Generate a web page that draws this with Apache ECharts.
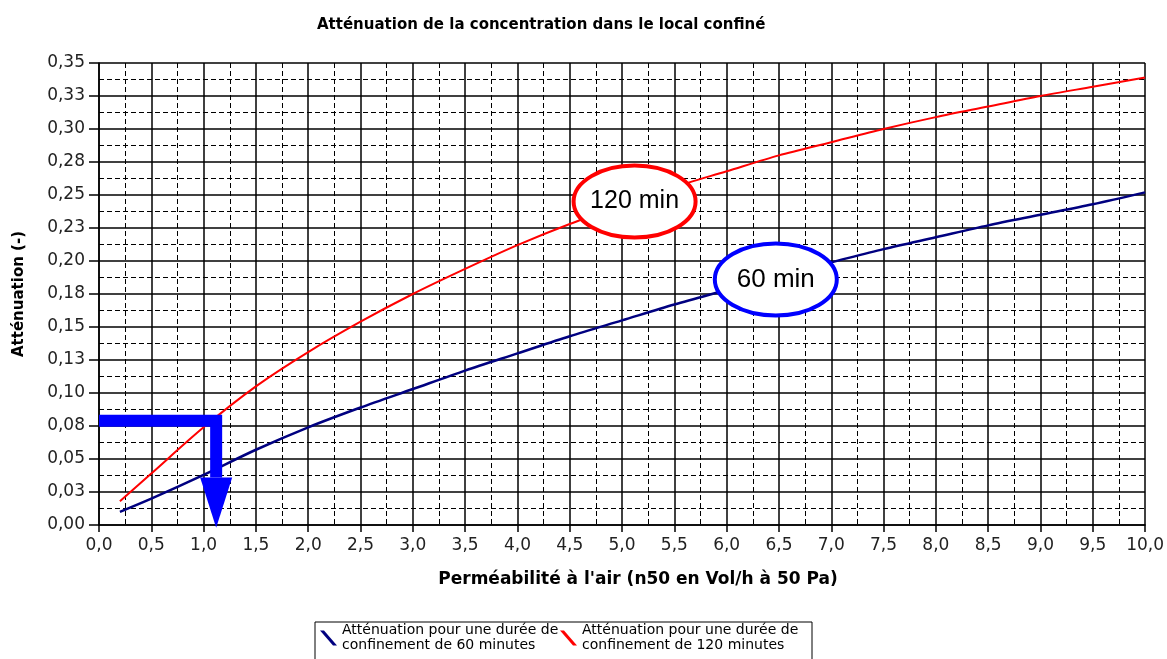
<!DOCTYPE html>
<html>
<head>
<meta charset="utf-8">
<script src="https://cdn.jsdelivr.net/npm/echarts@6/dist/echarts.min.js"></script>
<style>
  html, body { margin: 0; padding: 0; background: #fff; }
  #chart { width: 1167px; height: 659px; }
</style>
</head>
<body>
<div id="chart"></div>
<script>
// perméabilité n50 (Vol/h à 50 Pa)
var xValues = [0.2, 0.5, 1.0, 1.5, 2.0, 2.5, 3.0, 3.5, 4.0, 4.5, 5.0, 5.5, 6.0, 6.5, 7.0, 7.5, 8.0, 8.5, 9.0, 9.5, 10.0];
// atténuation 60 min
var att60 = [0.010, 0.020, 0.038, 0.057, 0.074, 0.089, 0.103, 0.117, 0.130, 0.143, 0.155, 0.167, 0.178, 0.189, 0.199, 0.209, 0.218, 0.227, 0.235, 0.243, 0.252];
// atténuation 120 min
var att120 = [0.018, 0.039, 0.074, 0.105, 0.131, 0.154, 0.175, 0.194, 0.212, 0.228, 0.242, 0.256, 0.268, 0.280, 0.290, 0.300, 0.309, 0.317, 0.325, 0.332, 0.339];

var seriesNames = [
  "Atténuation pour une durée de\nconfinement de 60 minutes",
  "Atténuation pour une durée de\nconfinement de 120 minutes"
];

var xTickLabels = ["0,0", "0,5", "1,0", "1,5", "2,0", "2,5", "3,0", "3,5", "4,0", "4,5", "5,0",
  "5,5", "6,0", "6,5", "7,0", "7,5", "8,0", "8,5", "9,0", "9,5", "10,0"];
var yTickLabels = ["0,00", "0,03", "0,05", "0,08", "0,10", "0,13", "0,15", "0,18", "0,20",
  "0,23", "0,25", "0,28", "0,30", "0,33", "0,35"];

// flèche de lecture : n50 ~ 1,1 pour 0,08
var arrowPath = [[0, 0.079], [1.12, 0.079], [1.12, 0.036]];
var arrowTip = [1.12, -0.002];

// étiquettes des courbes
var tagPos = [[5.12, 0.245], [6.47, 0.186]];
var tagText = ["120 min", "60 min"];

function pairs(xs, ys) {
  var out = [];
  for (var i = 0; i < xs.length; i++) out.push([xs[i], ys[i]]);
  return out;
}

var chart = echarts.init(document.getElementById("chart"));

chart.setOption({
  animation: false,
  backgroundColor: "#fff",
  title: {
    text: "Atténuation de la concentration dans le local confiné",
    left: 312,
    top: 13,
    textStyle: { fontFamily: "DejaVu Sans", fontWeight: "bold", fontSize: 15, color: "#000" }
  },
  grid: { left: 99, right: 20, top: 63, bottom: 134 },
  legend: {
    data: seriesNames,
    left: 315,
    top: 622,
    orient: "horizontal",
    itemGap: 0,
    itemWidth: 17,
    itemHeight: 15,
    itemTextGap: 3,
    padding: [1, 12, 12, 5],
    borderColor: "#000",
    borderWidth: 1,
    icon: "path://M0,0 L4,0 L17,15 L13,15 Z",
    textStyle: {
      fontFamily: "DejaVu Sans",
      fontSize: 14,
      lineHeight: 15,
      color: "#000",
      width: 218
    }
  },
  xAxis: {
    type: "value",
    min: 0,
    max: 10,
    interval: 0.5,
    name: "Perméabilité à l'air (n50 en Vol/h à 50 Pa)",
    nameLocation: "middle",
    nameGap: 46,
    nameTextStyle: { fontFamily: "DejaVu Sans", fontWeight: "bold", fontSize: 17, color: "#000", padding: [0, 0, 0, 32] },
    axisLine: { lineStyle: { color: "#000", width: 1.5 } },
    axisTick: { show: true, length: 7, lineStyle: { color: "#000", width: 1.5 } },
    axisLabel: {
      margin: 12,
      fontFamily: "DejaVu Sans",
      fontSize: 17,
      color: "#222",
      formatter: function (v, i) { return xTickLabels[i]; }
    },
    splitLine: { show: true, lineStyle: { color: "#000", width: 1.5 } },
    minorTick: { show: false, splitNumber: 2 },
    minorSplitLine: { show: true, lineStyle: { color: "#000", width: 1, type: [5, 3] } }
  },
  yAxis: {
    type: "value",
    min: 0,
    max: 0.35,
    interval: 0.025,
    name: "Atténuation (-)",
    nameLocation: "middle",
    nameGap: 72,
    nameTextStyle: { fontFamily: "DejaVu Sans", fontWeight: "bold", fontSize: 15, color: "#000" },
    axisLine: { show: true, lineStyle: { color: "#000", width: 1.5 } },
    axisTick: { show: true, length: 10, lineStyle: { color: "#000", width: 1.5 } },
    axisLabel: {
      margin: 14,
      fontFamily: "DejaVu Sans",
      fontSize: 17,
      color: "#222",
      formatter: function (v, i) { return yTickLabels[i]; }
    },
    splitLine: { show: true, lineStyle: { color: "#000", width: 1.5 } },
    minorTick: { show: false, splitNumber: 2 },
    minorSplitLine: { show: true, lineStyle: { color: "#000", width: 1, type: [5, 3] } }
  },
  series: [
    {
      name: seriesNames[0],
      type: "line",
      data: pairs(xValues, att60),
      showSymbol: false,
      smooth: 0.3,
      color: "#000080",
      lineStyle: { color: "#000080", width: 2.5 },
      z: 3
    },
    {
      name: seriesNames[1],
      type: "line",
      data: pairs(xValues, att120),
      showSymbol: false,
      smooth: 0.3,
      color: "#ff0000",
      lineStyle: { color: "#ff0000", width: 2 },
      z: 3
    },
    {
      // flèche bleue
      type: "custom",
      clip: false,
      silent: true,
      z: 5,
      data: [0],
      renderItem: function (params, api) {
        var pts = arrowPath.map(function (p) { return api.coord(p); });
        var base = pts[pts.length - 1];
        var tip = api.coord(arrowTip);
        return {
          type: "group",
          children: [
            {
              type: "polyline",
              shape: { points: pts },
              style: { stroke: "#0000ff", lineWidth: 12, fill: null, lineJoin: "miter", lineCap: "butt" }
            },
            {
              type: "polygon",
              shape: { points: [[base[0] - 16, base[1]], [base[0] + 16, base[1]], [tip[0], tip[1]]] },
              style: { fill: "#0000ff" }
            }
          ]
        };
      }
    },
    {
      // étiquettes ellipses
      type: "custom",
      clip: false,
      silent: true,
      z: 6,
      data: tagPos,
      renderItem: function (params, api) {
        var c = api.coord([api.value(0), api.value(1)]);
        var stroke = params.dataIndex === 0 ? "#ff0000" : "#0000ff";
        return {
          type: "group",
          children: [
            {
              type: "ellipse",
              shape: { cx: c[0], cy: c[1], rx: 61, ry: 36 },
              style: { fill: "#fff", stroke: stroke, lineWidth: 4 }
            },
            {
              type: "text",
              style: {
                x: c[0],
                y: c[1],
                text: tagText[params.dataIndex],
                fontFamily: "Liberation Sans",
                fontSize: params.dataIndex === 0 ? 25 : 26,
                fill: "#000",
                align: "center",
                verticalAlign: "middle"
              }
            }
          ]
        };
      }
    }
  ]
});

window.onresize = chart.resize;
</script>
</body>
</html>
